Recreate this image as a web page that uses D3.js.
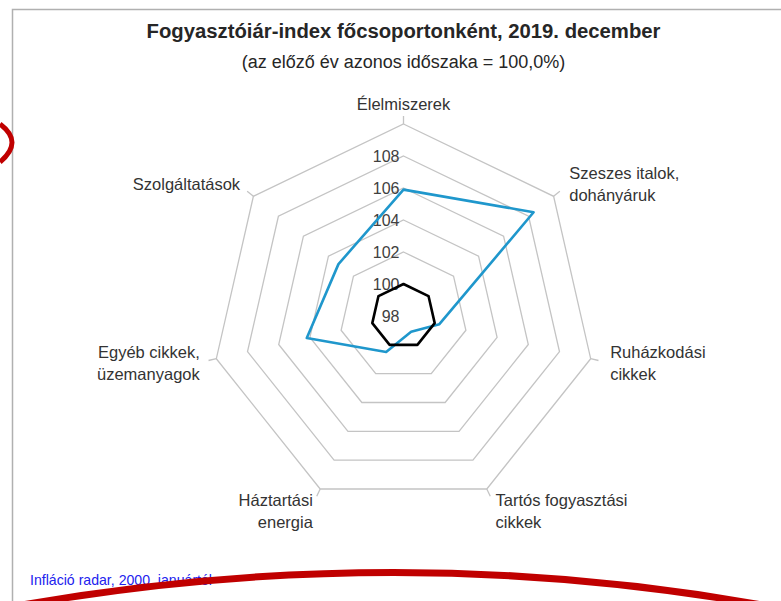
<!DOCTYPE html>
<html>
<head>
<meta charset="utf-8">
<script src="https://cdn.jsdelivr.net/npm/d3@7"></script>
<style>
  body { margin: 0; background: #fff; }
  text { font-family: "Liberation Sans", Arial, sans-serif; }
</style>
</head>
<body>
<div id="chart"></div>
<script>
// categories clockwise from the top, each label split into lines
const categories = [
    ["Élelmiszerek"],
    ["Szeszes italok,", "dohányáruk"],
    ["Ruházkodási", "cikkek"],
    ["Tartós fogyasztási", "cikkek"],
    ["Háztartási", "energia"],
    ["Egyéb cikkek,", "üzemanyagok"],
    ["Szolgáltatások"]
];
const values2019 = [105.9, 108.4, 100.3, 99.1, 100.5, 104.2, 103.2];
const baseline = [100, 100, 100, 100, 100, 100, 100];
const tickValues = [98, 100, 102, 104, 106, 108];
const ringValues = [100, 102, 104, 106, 108, 110];

const W = 781, H = 601;
const cx = 403.5, cy = 316, R = 192;

const svg = d3.select("#chart")
    .append("svg")
    .attr("width", W)
    .attr("height", H);

// frame
svg.append("path")
    .attr("d", `M12.5,${H} L12.5,9.5 L${W},9.5`)
    .attr("fill", "none")
    .attr("stroke", "#b0b0b0")
    .attr("stroke-width", 1.5);

svg.append("text")
    .attr("x", cx).attr("y", 38)
    .attr("text-anchor", "middle")
    .attr("font-size", 20.3).attr("font-weight", "bold")
    .attr("fill", "#262626")
    .text("Fogyasztóiár-index főcsoportonként, 2019. december");

svg.append("text")
    .attr("x", cx).attr("y", 68)
    .attr("text-anchor", "middle")
    .attr("font-size", 18)
    .attr("fill", "#262626")
    .text("(az előző év azonos időszaka = 100,0%)");

const r = d3.scaleLinear().domain([98, 110]).range([0, R]);
const angle = d3.scaleLinear().domain([0, categories.length]).range([0, 2 * Math.PI]);

const g = svg.append("g").attr("transform", `translate(${cx},${cy})`);

const radial = d3.lineRadial()
    .angle((d, i) => angle(i))
    .radius(d => r(d))
    .curve(d3.curveLinearClosed);

// gray rings
g.selectAll(".ring")
    .data(ringValues)
    .enter()
    .append("path")
    .attr("class", "ring")
    .attr("d", v => radial(categories.map(() => v)))
    .attr("fill", "none")
    .attr("stroke", "#c4c4c4")
    .attr("stroke-width", 1.3);

// little ticks outside the outer ring
g.selectAll(".spoke")
    .data(categories)
    .enter()
    .append("line")
    .attr("class", "spoke")
    .attr("x1", (d, i) => r(110) * Math.sin(angle(i)))
    .attr("y1", (d, i) => -r(110) * Math.cos(angle(i)))
    .attr("x2", (d, i) => (r(110) + 8) * Math.sin(angle(i)))
    .attr("y2", (d, i) => -(r(110) + 8) * Math.cos(angle(i)))
    .attr("stroke", "#c4c4c4")
    .attr("stroke-width", 1.3);

// tick labels
g.selectAll(".tick-label")
    .data(tickValues)
    .enter()
    .append("text")
    .attr("class", "tick-label")
    .attr("x", -4)
    .attr("y", d => -r(d))
    .attr("dy", "0.36em")
    .attr("text-anchor", "end")
    .attr("font-size", 16)
    .attr("fill", "#404040")
    .text(d => d);

// series
g.append("path")
    .attr("d", radial(values2019))
    .attr("fill", "none")
    .attr("stroke", "#1f97cc")
    .attr("stroke-width", 2.6)
    .attr("stroke-linejoin", "round");

g.append("path")
    .attr("d", radial(baseline))
    .attr("fill", "none")
    .attr("stroke", "#000")
    .attr("stroke-width", 2.6)
    .attr("stroke-linejoin", "round");

// category labels
const labelR = 212;
const lineH = 22;
g.selectAll(".cat-label")
    .data(categories)
    .enter()
    .append("text")
    .attr("class", "cat-label")
    .attr("font-size", 16.5)
    .attr("fill", "#333")
    .attr("text-anchor", (d, i) => {
        const s = Math.sin(angle(i));
        return Math.abs(s) < 0.1 ? "middle" : (s > 0 ? "start" : "end");
    })
    .each(function(d, i) {
        const a = angle(i);
        const s = Math.sin(a);
        // left-hand labels sit a little closer to the chart
        const x = (s < 0 ? labelR - 3 : labelR) * s;
        let y = -labelR * Math.cos(a);
        if (Math.cos(a) < -0.5) y += 4;
        const y0 = y - (d.length - 1) * lineH / 2;
        d3.select(this).selectAll("tspan")
            .data(d)
            .enter()
            .append("tspan")
            .attr("x", x)
            .attr("y", (t, k) => y0 + k * lineH)
            .attr("dy", "0.36em")
            .text(t => t);
    });

svg.append("text")
    .attr("x", 30).attr("y", 585)
    .attr("font-family", "'Liberation Sans Narrow', 'Liberation Sans', Arial, sans-serif")
    .attr("font-size", 15)
    .attr("fill", "#2222ee")
    .attr("textLength", 182)
    .attr("lengthAdjust", "spacingAndGlyphs")
    .text("Infláció radar, 2000. januártól");

// red hand-drawn marks on top of the screenshot
svg.append("path")
    .attr("d", "M0,124 Q24,142 0,162")
    .attr("fill", "none")
    .attr("stroke", "#c00000")
    .attr("stroke-width", 5);

svg.append("path")
    .attr("d", "M22,605 Q395,540 762,605")
    .attr("fill", "none")
    .attr("stroke", "#c00000")
    .attr("stroke-width", 7);
</script>
</body>
</html>
